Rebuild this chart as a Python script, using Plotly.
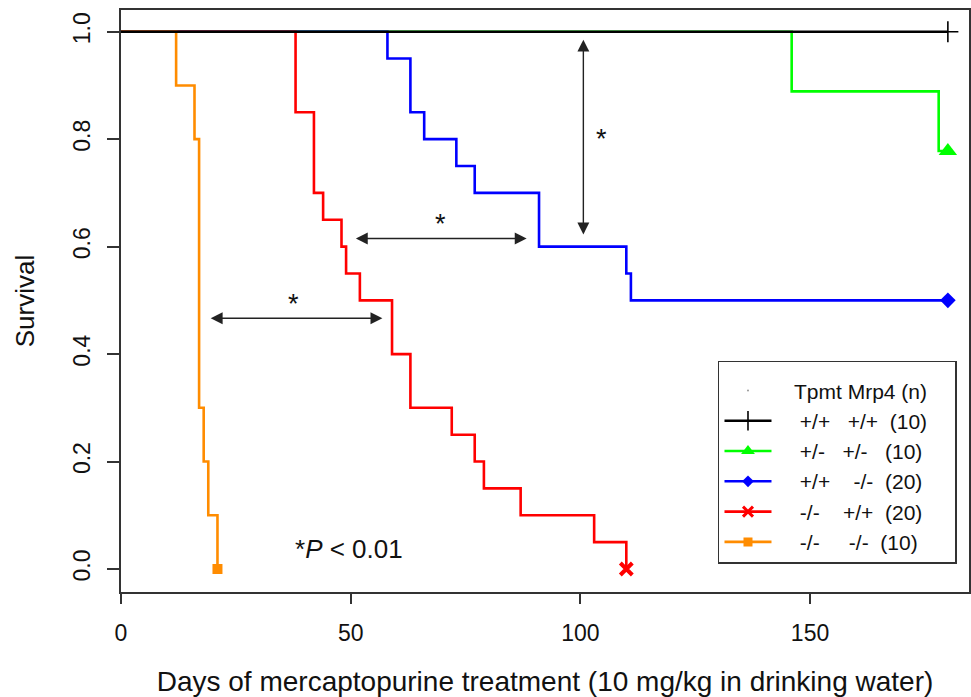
import plotly.graph_objects as go

FONT = "Arial, 'Liberation Sans', Helvetica, sans-serif"

# ---------------- data ----------------
# drop days and survival level reached after each drop
black_times = []
black_surv = []
black_end = 180

green_times = [146, 178]
green_surv = [0.889, 0.778]
green_end = 180

blue_times = [58, 63, 66, 73, 77, 91, 110, 111]
blue_surv = [0.95, 0.85, 0.80, 0.75, 0.70, 0.60, 0.55, 0.50]
blue_end = 180

red_times = [38, 42, 44, 48, 49, 52, 59, 63, 72, 77, 79, 87, 103, 110]
red_surv = [0.85, 0.70, 0.65, 0.60, 0.55, 0.50, 0.40, 0.30, 0.25, 0.20, 0.15, 0.10, 0.05, 0.0]
red_end = 110

orange_times = [12, 16, 17, 18, 19, 21]
orange_surv = [0.9, 0.8, 0.3, 0.2, 0.1, 0.0]
orange_end = 21

legend_title = "Tpmt Mrp4 (n)"
legend_tpmt = ["+/+", "+/-", "+/+", "-/-", "-/-"]
legend_mrp4 = ["+/+", "+/-", "-/-", "+/+", "-/-"]
legend_n = [10, 10, 20, 20, 10]

# comparison arrows (data coordinates) and their stars
arrow_x0 = [100.65, 50.8, 19.2]
arrow_y0 = [0.988, 0.615, 0.4666]
arrow_x1 = [100.65, 88.3, 56.9]
arrow_y1 = [0.6226, 0.615, 0.4666]
star_x = [104.7, 69.5, 37.5]
star_y = [0.80, 0.643, 0.494]
pnote_x = 49.6
pnote_y = 0.037
pnote_text = "*<i>P</i> &lt; 0.01"

x_ticks = [0, 50, 100, 150]
y_ticks = [0.0, 0.2, 0.4, 0.6, 0.8, 1.0]
y_ticklabels = ["0.0", "0.2", "0.4", "0.6", "0.8", "1.0"]
x_title = "Days of mercaptopurine treatment (10 mg/kg in drinking water)"
y_title = "Survival"

# ---------------- styles ----------------
series = [
    # name, times, surv, end, color, symbol, size, marker line width
    ("black", black_times, black_surv, black_end, "#000000", "cross-thin", 15, 1.6),
    ("green", green_times, green_surv, green_end, "#00ff00", "triangle-up", 16, 0),
    ("blue", blue_times, blue_surv, blue_end, "#0000ff", "diamond", 12, 0),
    ("red", red_times, red_surv, red_end, "#ff0000", "x-thin", 12, 4),
    ("orange", orange_times, orange_surv, orange_end, "#ff8c00", "square", 10, 0),
]
legend_sizes = [14, 12, 9, 10, 9]


def nb(k):
    return "\u00a0" * k


gaps1 = [3, 3, 4, 4, 5]
gaps2 = [2, 3, 2, 2, 2]
legend_names = [
    nb(4) + t + nb(g1) + m + nb(g2) + "(" + str(n) + ")" + nb(4)
    for t, m, n, g1, g2 in zip(legend_tpmt, legend_mrp4, legend_n, gaps1, gaps2)
]

fig = go.Figure()

# step lines (coloured ones first, black on top)
draw_order = [1, 2, 3, 4, 0]
for i in draw_order:
    name, times, surv, end, color, sym, size, lw = series[i]
    xs = [0] + list(times) + [end]
    ys = [1.0] + list(surv) + [surv[-1] if surv else 1.0]
    fig.add_trace(go.Scatter(x=xs, y=ys, mode="lines", line_shape="hv",
                             line=dict(color=color, width=2.6),
                             showlegend=False, hoverinfo="skip"))

# end markers
for i in draw_order:
    name, times, surv, end, color, sym, size, lw = series[i]
    yend = surv[-1] if surv else 1.0
    mk = dict(symbol=sym, size=size, color=color)
    mk["line"] = dict(color=color, width=lw if lw else 0)
    fig.add_trace(go.Scatter(x=[end], y=[yend], mode="markers", marker=mk,
                             showlegend=False, hoverinfo="skip"))

# legend entries
fig.add_trace(go.Scatter(x=[None], y=[None], mode="markers",
                         marker=dict(size=2, color="#999999"),
                         name=nb(3) + legend_title + nb(3)))
for i in range(5):
    name, times, surv, end, color, sym, size, lw = series[i]
    mk = dict(symbol=sym, size=legend_sizes[i], color=color)
    mk["line"] = dict(color=color, width=(3 if lw > 2 else lw) if lw else 0)
    fig.add_trace(go.Scatter(x=[None], y=[None], mode="lines+markers",
                             line=dict(color=color, width=2.6), marker=mk,
                             name=legend_names[i]))

annotations = []
for x0, y0, x1, y1 in zip(arrow_x0, arrow_y0, arrow_x1, arrow_y1):
    annotations.append(dict(x=x1, y=y1, ax=x0, ay=y0, xref="x", yref="y",
                            axref="x", ayref="y", text="", showarrow=True,
                            arrowhead=2, startarrowhead=2, arrowside="end+start",
                            arrowsize=1.7, arrowwidth=1.4, arrowcolor="#222222",
                            standoff=0, startstandoff=0))
for sx, sy in zip(star_x, star_y):
    annotations.append(dict(x=sx, y=sy, xref="x", yref="y", text="*",
                            showarrow=False, font=dict(family=FONT, size=27, color="#111111")))
annotations.append(dict(x=pnote_x, y=pnote_y, xref="x", yref="y", text=pnote_text,
                        showarrow=False, font=dict(family=FONT, size=26, color="#111111")))

axis_common = dict(showgrid=False, zeroline=False, showline=True, mirror=True,
                   linecolor="#333333", linewidth=1.5, ticks="outside",
                   tickcolor="#333333", tickwidth=1.5, automargin=False)

fig.update_layout(
    width=971, height=697,
    margin=dict(l=121, r=2, t=10, b=105, autoexpand=False),
    paper_bgcolor="white", plot_bgcolor="white",
    font=dict(family=FONT, color="#111111"),
    xaxis=dict(range=[0, 184.6], tickmode="array", tickvals=x_ticks,
               ticklen=10, tickfont=dict(size=23),
               ticklabelstandoff=10,
               title=dict(text=x_title, font=dict(size=28), standoff=26),
               **axis_common),
    yaxis=dict(range=[-0.0428, 1.0404], tickmode="array", tickvals=y_ticks,
               ticktext=y_ticklabels, tickangle=-90, ticklen=12,
               tickfont=dict(size=23), ticklabelstandoff=8,
               title=dict(text=y_title, font=dict(size=26), standoff=27),
               **axis_common),
    legend=dict(x=0.704, y=0.397, xanchor="left", yanchor="top",
                bordercolor="#333333", borderwidth=1.5, bgcolor="white",
                font=dict(family=FONT, size=21, color="#111111"),
                title=dict(text="\u00a0", font=dict(size=6)),
                itemwidth=47, traceorder="normal"),
    annotations=annotations,
    showlegend=True,
)

fig.write_html("out.html",
               config={"displayModeBar": False},
               post_script="document.body.style.margin='0';document.body.style.overflow='hidden';")
